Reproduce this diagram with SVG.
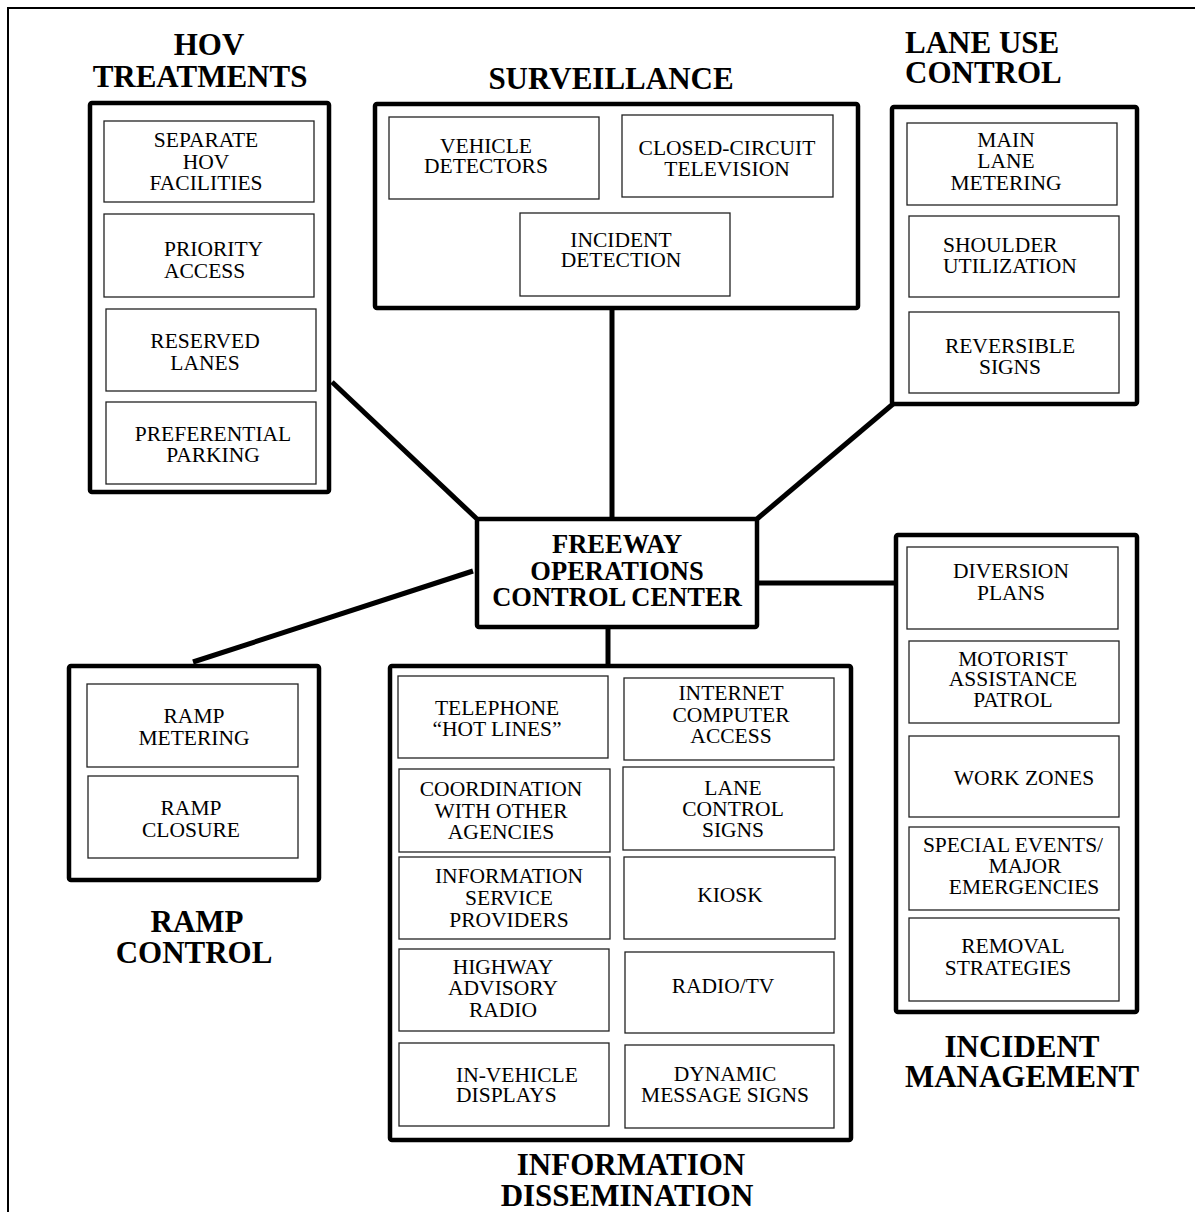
<svg xmlns="http://www.w3.org/2000/svg" width="1195" height="1212" viewBox="0 0 1195 1212">
<style>
.frame{fill:none;stroke:#000;stroke-width:2}
.grp{fill:none;stroke:#000;stroke-width:4.5;stroke-linejoin:round}
.item{fill:#fff;stroke:#222;stroke-width:1.3}
.conn{stroke:#000;stroke-width:5;fill:none}
text{font-family:"Liberation Serif","Times New Roman",serif;fill:#000}
.t{font-size:21.5px;text-anchor:middle}
.ts{font-size:21.5px;text-anchor:start}
.h{font-size:31px;font-weight:bold;text-anchor:middle}
.hs{font-size:31px;font-weight:bold;text-anchor:start}
.c{font-size:26.5px;font-weight:bold;text-anchor:middle}
</style>
<rect x="0" y="0" width="1195" height="1212" fill="#fff"/>
<rect class="frame" x="8" y="8" width="1200" height="1220"/>

<g id="connectors">
<line class="conn" x1="612" y1="306" x2="612" y2="519"/>
<line class="conn" x1="332" y1="382" x2="477" y2="519"/>
<line class="conn" x1="893" y1="404" x2="757" y2="519"/>
<line class="conn" x1="193" y1="662" x2="473" y2="571"/>
<line class="conn" x1="757" y1="583" x2="894" y2="583"/>
<line class="conn" x1="608" y1="627" x2="608" y2="666"/>
</g>

<g id="center">
<rect class="grp" x="477" y="519" width="280" height="108" rx="2"/>
<text class="c" x="617" y="553">FREEWAY</text>
<text class="c" x="617" y="580">OPERATIONS</text>
<text class="c" x="617" y="606">CONTROL CENTER</text>
</g>

<g id="hov">
<text class="h" x="209" y="55">HOV</text>
<text class="h" x="200" y="87">TREATMENTS</text>
<rect class="grp" x="90" y="103" width="239" height="389" rx="2"/>
<g id="hov-separate"><rect class="item" x="104" y="121" width="210" height="81"/>
<text class="t" x="206" y="147">SEPARATE</text><text class="t" x="206" y="169">HOV</text><text class="t" x="206" y="190">FACILITIES</text></g>
<g id="hov-priority"><rect class="item" x="104" y="214" width="210" height="83"/>
<text class="ts" x="164" y="256">PRIORITY</text><text class="ts" x="164" y="278">ACCESS</text></g>
<g id="hov-reserved"><rect class="item" x="106" y="309" width="210" height="82"/>
<text class="t" x="205" y="348">RESERVED</text><text class="t" x="205" y="370">LANES</text></g>
<g id="hov-preferential"><rect class="item" x="106" y="402" width="210" height="82"/>
<text class="t" x="213" y="441">PREFERENTIAL</text><text class="t" x="213" y="462">PARKING</text></g>
</g>

<g id="surveillance">
<text class="h" x="611" y="89">SURVEILLANCE</text>
<rect class="grp" x="375" y="104" width="483" height="204" rx="2"/>
<g id="surv-vehicle"><rect class="item" x="389" y="117" width="210" height="82"/>
<text class="t" x="486" y="153">VEHICLE</text><text class="t" x="486" y="173">DETECTORS</text></g>
<g id="surv-cctv"><rect class="item" x="622" y="115" width="211" height="82"/>
<text class="t" x="727" y="155">CLOSED-CIRCUIT</text><text class="t" x="727" y="176">TELEVISION</text></g>
<g id="surv-incident"><rect class="item" x="520" y="213" width="210" height="83"/>
<text class="t" x="621" y="247">INCIDENT</text><text class="t" x="621" y="267">DETECTION</text></g>
</g>

<g id="laneuse">
<text class="hs" x="905" y="53">LANE USE</text>
<text class="hs" x="905" y="83">CONTROL</text>
<rect class="grp" x="892" y="107" width="245" height="297" rx="2"/>
<g id="lane-main"><rect class="item" x="907" y="123" width="210" height="82"/>
<text class="t" x="1006" y="147">MAIN</text><text class="t" x="1006" y="168">LANE</text><text class="t" x="1006" y="190">METERING</text></g>
<g id="lane-shoulder"><rect class="item" x="909" y="216" width="210" height="81"/>
<text class="ts" x="943" y="252">SHOULDER</text><text class="ts" x="943" y="273">UTILIZATION</text></g>
<g id="lane-reversible"><rect class="item" x="909" y="312" width="210" height="81"/>
<text class="t" x="1010" y="353">REVERSIBLE</text><text class="t" x="1010" y="374">SIGNS</text></g>
</g>

<g id="ramp">
<rect class="grp" x="69" y="666" width="250" height="214" rx="2"/>
<g id="ramp-metering"><rect class="item" x="87" y="684" width="211" height="83"/>
<text class="t" x="194" y="723">RAMP</text><text class="t" x="194" y="745">METERING</text></g>
<g id="ramp-closure"><rect class="item" x="88" y="776" width="210" height="82"/>
<text class="t" x="191" y="815">RAMP</text><text class="t" x="191" y="837">CLOSURE</text></g>
<text class="h" x="197" y="932">RAMP</text>
<text class="h" x="194" y="963">CONTROL</text>
</g>

<g id="info">
<rect class="grp" x="390" y="666" width="461" height="474" rx="2"/>
<g id="info-telephone"><rect class="item" x="398" y="676" width="210" height="82"/>
<text class="t" x="497" y="715">TELEPHONE</text><text class="t" x="497" y="736">“HOT LINES”</text></g>
<g id="info-internet"><rect class="item" x="624" y="678" width="210" height="82"/>
<text class="t" x="731" y="700">INTERNET</text><text class="t" x="731" y="722">COMPUTER</text><text class="t" x="731" y="743">ACCESS</text></g>
<g id="info-coordination"><rect class="item" x="399" y="769" width="211" height="83"/>
<text class="t" x="501" y="796">COORDINATION</text><text class="t" x="501" y="818">WITH OTHER</text><text class="t" x="501" y="839">AGENCIES</text></g>
<g id="info-lanecontrol"><rect class="item" x="623" y="767" width="211" height="83"/>
<text class="t" x="733" y="795">LANE</text><text class="t" x="733" y="816">CONTROL</text><text class="t" x="733" y="837">SIGNS</text></g>
<g id="info-isp"><rect class="item" x="399" y="857" width="211" height="82"/>
<text class="t" x="509" y="883">INFORMATION</text><text class="t" x="509" y="905">SERVICE</text><text class="t" x="509" y="927">PROVIDERS</text></g>
<g id="info-kiosk"><rect class="item" x="624" y="857" width="211" height="82"/>
<text class="t" x="730" y="902">KIOSK</text></g>
<g id="info-har"><rect class="item" x="399" y="949" width="210" height="82"/>
<text class="t" x="503" y="974">HIGHWAY</text><text class="t" x="503" y="995">ADVISORY</text><text class="t" x="503" y="1017">RADIO</text></g>
<g id="info-radiotv"><rect class="item" x="625" y="952" width="209" height="81"/>
<text class="t" x="723" y="993">RADIO/TV</text></g>
<g id="info-invehicle"><rect class="item" x="399" y="1043" width="210" height="83"/>
<text class="ts" x="456" y="1082">IN-VEHICLE</text><text class="ts" x="456" y="1102">DISPLAYS</text></g>
<g id="info-dms"><rect class="item" x="625" y="1045" width="209" height="83"/>
<text class="t" x="725" y="1081">DYNAMIC</text><text class="t" x="725" y="1102">MESSAGE SIGNS</text></g>
<text class="h" x="631" y="1175">INFORMATION</text>
<text class="h" x="627" y="1206">DISSEMINATION</text>
</g>

<g id="incident">
<rect class="grp" x="896" y="535" width="241" height="477" rx="2"/>
<g id="inc-diversion"><rect class="item" x="907" y="547" width="211" height="82"/>
<text class="t" x="1011" y="578">DIVERSION</text><text class="t" x="1011" y="600">PLANS</text></g>
<g id="inc-motorist"><rect class="item" x="909" y="641" width="210" height="82"/>
<text class="t" x="1013" y="666">MOTORIST</text><text class="t" x="1013" y="686">ASSISTANCE</text><text class="t" x="1013" y="707">PATROL</text></g>
<g id="inc-work"><rect class="item" x="909" y="736" width="210" height="81"/>
<text class="t" x="1024" y="785">WORK ZONES</text></g>
<g id="inc-special"><rect class="item" x="909" y="827" width="210" height="83"/>
<text class="t" x="1013" y="852">SPECIAL EVENTS/</text><text class="t" x="1025" y="873">MAJOR</text><text class="t" x="1024" y="894">EMERGENCIES</text></g>
<g id="inc-removal"><rect class="item" x="909" y="918" width="210" height="83"/>
<text class="t" x="1013" y="953">REMOVAL</text><text class="t" x="1008" y="975">STRATEGIES</text></g>
<text class="h" x="1022" y="1057">INCIDENT</text>
<text class="h" x="1022" y="1087">MANAGEMENT</text>
</g>
</svg>
